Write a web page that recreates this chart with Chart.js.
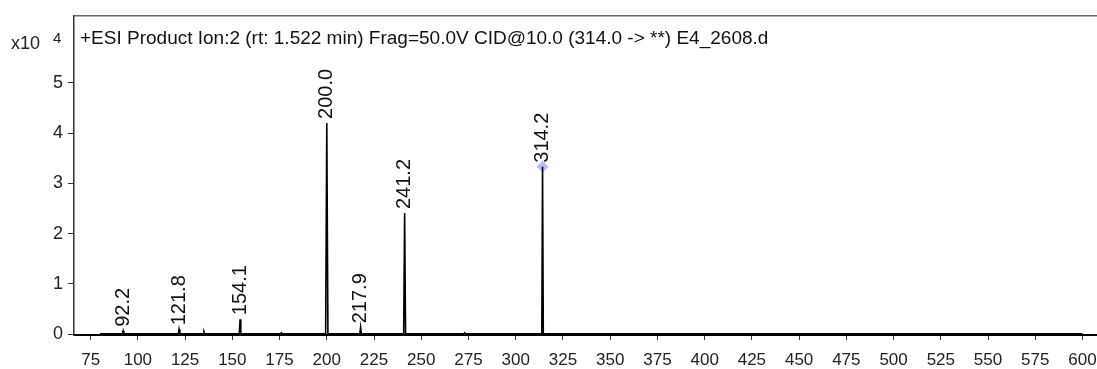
<!DOCTYPE html>
<html>
<head>
<meta charset="utf-8">
<script src="https://cdn.jsdelivr.net/npm/chart.js@4"></script>
<style>
  html,body{margin:0;padding:0;background:#fff;overflow:hidden;width:1097px;height:369px;}
  #wrap{position:relative;width:1104px;height:369px;}
</style>
</head>
<body>
<div id="wrap"><canvas id="chart"></canvas></div>
<script>
// spectrum profile (m/z vs counts x10^4)
const mz        = [80, 91.8, 92.2, 92.6, 121.4, 121.8, 122.2, 134.6, 135.0, 135.4, 153.7, 154.1, 154.5, 175.6, 176.0, 176.4, 199.4, 200.0, 200.6, 217.5, 217.9, 218.3, 240.7, 241.2, 241.7, 272.6, 273.0, 273.4, 313.8, 314.2, 314.6, 600];
const intensity = [0.01, 0.01, 0.07, 0.01, 0.01, 0.10, 0.01, 0.01, 0.05, 0.01, 0.01, 0.30, 0.01, 0.01, 0.03, 0.01, 0.01, 4.20, 0.01, 0.01, 0.14, 0.01, 0.01, 2.41, 0.01, 0.01, 0.03, 0.01, 0.01, 3.33, 0.01, 0.01];

// labelled peaks
const peakMz     = [92.2, 121.8, 154.1, 200.0, 217.9, 241.2, 314.2];
const peakTop    = [0.07, 0.10, 0.30, 4.20, 0.14, 2.41, 3.33];
const peakLabels = ['92.2', '121.8', '154.1', '200.0', '217.9', '241.2', '314.2'];

// selected precursor marker
const markerMz = [314.2];
const markerY  = [3.33];

const xTicks = [75,100,125,150,175,200,225,250,275,300,325,350,375,400,425,450,475,500,525,550,575,600];
const yTicks = [0,1,2,3,4,5];

const titleText = '+ESI Product Ion:2 (rt: 1.522 min) Frag=50.0V CID@10.0 (314.0 -> **) E4_2608.d';
const FONT = '"Liberation Sans", Arial, sans-serif';

const annotate = {
  id: 'annotate',
  afterDatasetsDraw(chart){
    const {ctx, chartArea, scales:{x, y}} = chart;
    ctx.save();
    // top frame line
    ctx.strokeStyle = '#666'; ctx.lineWidth = 1.5;
    ctx.beginPath(); ctx.moveTo(chartArea.left, chartArea.top); ctx.lineTo(chartArea.right, chartArea.top); ctx.stroke();

    // peak labels, rotated
    ctx.fillStyle = '#111';
    ctx.font = '20px ' + FONT;
    ctx.textAlign = 'left'; ctx.textBaseline = 'middle';
    peakMz.forEach((m, i)=>{
      const px = x.getPixelForValue(m), py = y.getPixelForValue(peakTop[i]);
      ctx.save();
      ctx.translate(px, py - 4);
      ctx.rotate(-Math.PI/2);
      ctx.fillText(peakLabels[i], 0, 0);
      ctx.restore();
    });

    // title inside plot
    ctx.font = '19px ' + FONT;
    ctx.textBaseline = 'middle';
    ctx.fillText(titleText, chartArea.left + 6, chartArea.top + 23);

    // x10^4 multiplier
    ctx.font = '18px ' + FONT;
    ctx.fillStyle = '#222';
    ctx.fillText('x10', 11, 44);
    ctx.font = '15px ' + FONT;
    ctx.fillText('4', 53, 39);
    ctx.restore();
  }
};

new Chart(document.getElementById('chart'), {
  type: 'line',
  data: {
    datasets: [
      {
        data: mz.map((v, i)=>({x: v, y: intensity[i]})),
        borderColor: '#000', borderWidth: 1.6,
        pointRadius: 0, tension: 0, fill: false, order: 0
      },
      {
        data: markerMz.map((v, i)=>({x: v, y: markerY[i]})),
        showLine: false, pointStyle: 'rectRot', pointRadius: 6,
        backgroundColor: 'rgba(130,140,235,0.55)', borderWidth: 0, order: 1
      }
    ]
  },
  options: {
    responsive: true, maintainAspectRatio: false, animation: false,
    layout: {padding: {top: 12, left: 0, right: 0, bottom: 0}},
    plugins: {legend: {display: false}, tooltip: {enabled: false}},
    scales: {
      x: {
        type: 'linear', min: 66.2, max: 608.2,
        afterBuildTicks: s => { s.ticks = xTicks.map(v=>({value: v})); },
        afterFit: s => { s.height = 34; s.paddingRight = 0; s.paddingLeft = 0; },
        border: {display: true, color: '#000', width: 2},
        grid: {drawOnChartArea: false, drawTicks: true, tickLength: 5, color: '#333'},
        ticks: {color: '#222', font: {family: FONT, size: 17}, padding: 10, maxRotation: 0, autoSkip: false}
      },
      y: {
        min: -0.014, max: 6.33,
        afterBuildTicks: s => { s.ticks = yTicks.map(v=>({value: v})); },
        afterFit: s => { s.width = 74; },
        border: {display: true, color: '#333', width: 1.5},
        grid: {drawOnChartArea: false, drawTicks: true, tickLength: 6, color: '#333'},
        ticks: {color: '#222', font: {family: FONT, size: 18}, padding: 5}
      }
    }
  },
  plugins: [annotate]
});
</script>
</body>
</html>
